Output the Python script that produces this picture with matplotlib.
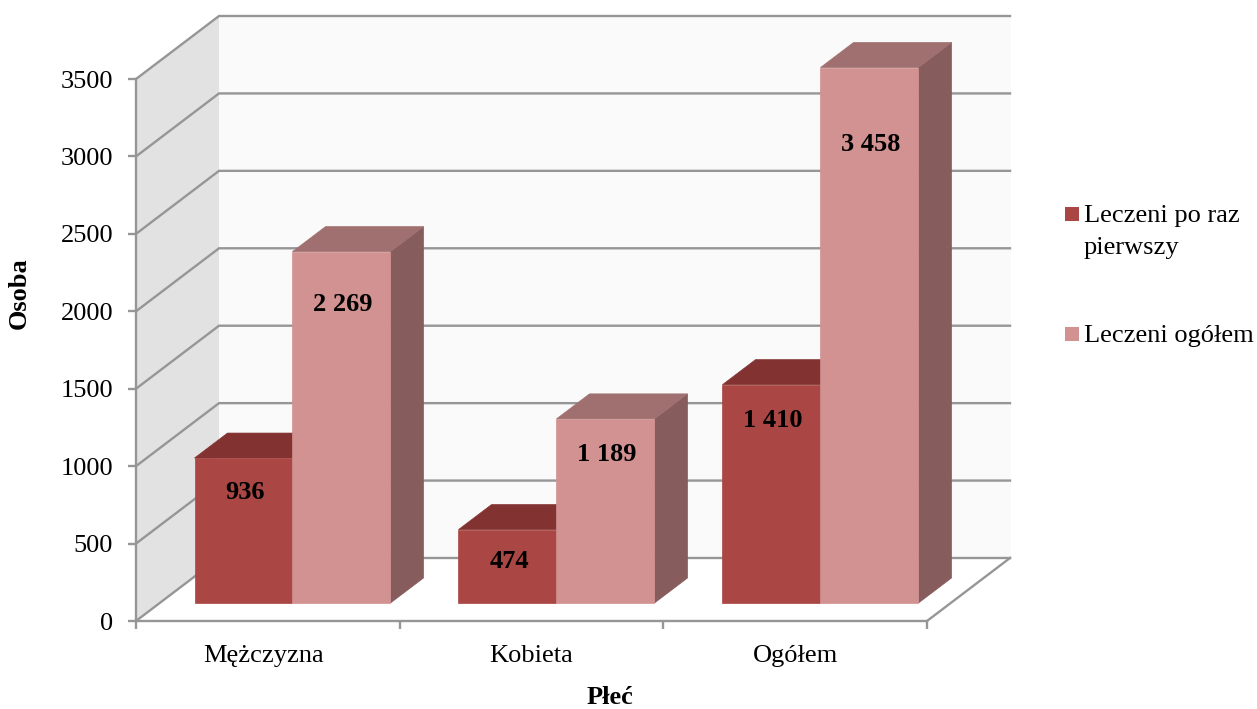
import matplotlib
matplotlib.use("Agg")
import matplotlib.pyplot as plt
from matplotlib.patches import Polygon, Rectangle

# dane
CATEGORIES = ["Mężczyzna", "Kobieta", "Ogółem"]
SERIES_NAMES = ["Leczeni po raz\npierwszy", "Leczeni ogółem"]
FIRST_TIME = [936, 474, 1410]
TOTAL = [2269, 1189, 3458]
Y_TICKS = [0, 500, 1000, 1500, 2000, 2500, 3000, 3500]

# styl
W, H = 1257, 709
AX_L, AX_R, AX_B, AX_T = 136, 927, 621, 79  # przednia plaszczyzna, px
GRID = "#969696"
LW = 1.7
WALL_SIDE = "#e2e2e2"
WALL_BACK = "#fafafa"
COL_FIRST = {"front": "#aa4643", "top": "#823331", "side": "#823331"}
COL_TOTAL = {"front": "#d19291", "top": "#a07070", "side": "#865c5c"}
FONT = "Liberation Serif"
FS = 19

plt.rcParams["font.family"] = FONT

fig = plt.figure(figsize=(W / 100, H / 100), dpi=100)
ax = fig.add_axes([AX_L / W, 1 - AX_B / H, (AX_R - AX_L) / W, (AX_B - AX_T) / H])
ax.set_xlim(0, 3)
ax.set_ylim(0, 3500)
ax.patch.set_visible(False)

# przeliczenie px -> jednostki osi
PX_X = 3 / (AX_R - AX_L)
PX_Y = 3500 / (AX_B - AX_T)
DEPTH_X = 83 * PX_X
DEPTH_Y = 63 * PX_Y


def poly(points, color, z, edge=None):
    ax.add_patch(Polygon(points, closed=True, facecolor=color, edgecolor=edge or color,
                         linewidth=0.5, clip_on=False, zorder=z))


# sciany
poly([(0, 0), (DEPTH_X, DEPTH_Y), (DEPTH_X, 3500 + DEPTH_Y), (0, 3500)], WALL_SIDE, 1)
poly([(DEPTH_X, DEPTH_Y), (3 + DEPTH_X, DEPTH_Y), (3 + DEPTH_X, 3500 + DEPTH_Y), (DEPTH_X, 3500 + DEPTH_Y)],
     WALL_BACK, 1)

for v in Y_TICKS:
    ax.plot([0, DEPTH_X, 3 + DEPTH_X], [v, v + DEPTH_Y, v + DEPTH_Y], color=GRID, lw=LW,
            clip_on=False, zorder=2, solid_joinstyle="miter")
ax.plot([3, 3 + DEPTH_X], [0, DEPTH_Y], color=GRID, lw=LW, clip_on=False, zorder=2)

# slupki
BAR_W = 98 * PX_X
BAR_START = 58.5 * PX_X
BAR_LIFT = 18 * PX_Y
BAR_DX = 33 * PX_X
BAR_DY = 25 * PX_Y
GROUP_STEP = 264 * PX_X


def bar3d(x, value, col, z):
    y0 = BAR_LIFT
    y1 = BAR_LIFT + value
    x1 = x + BAR_W
    poly([(x1, y0), (x1 + BAR_DX, y0 + BAR_DY), (x1 + BAR_DX, y1 + BAR_DY), (x1, y1)], col["side"], z)
    poly([(x, y1), (x1, y1), (x1 + BAR_DX, y1 + BAR_DY), (x + BAR_DX, y1 + BAR_DY)], col["top"], z)
    poly([(x, y0), (x1, y0), (x1, y1), (x, y1)], col["front"], z)


# odleglosc etykiety od gory slupka, px
DROP_FIRST = [34, 32, 36]
DROP_TOTAL = [53, 36, 77]

for i in range(len(CATEGORIES)):
    x = BAR_START + i * GROUP_STEP
    bar3d(x, FIRST_TIME[i], COL_FIRST, 3 + i)
    bar3d(x + BAR_W, TOTAL[i], COL_TOTAL, 3 + i + 0.5)
    for xx, val, drop in [(x, FIRST_TIME[i], DROP_FIRST[i]), (x + BAR_W, TOTAL[i], DROP_TOTAL[i])]:
        ax.text(xx + BAR_W / 2 + 1.5 * PX_X, BAR_LIFT + val - drop * PX_Y, f"{val:,}".replace(",", " "),
                ha="center", va="center", fontsize=FS, fontweight="bold", color="black", zorder=10)

# osie
for s in ["top", "right"]:
    ax.spines[s].set_visible(False)
for s in ["left", "bottom"]:
    ax.spines[s].set_color(GRID)
    ax.spines[s].set_linewidth(LW)
    ax.spines[s].set_zorder(2.5)
ax.set_yticks(Y_TICKS)
ax.set_xticks([0, 1, 2, 3])
ax.set_xticklabels([])
ax.set_xticks([0.485, 1.5, 2.5], minor=True)
ax.set_xticklabels(CATEGORIES, minor=True, fontsize=FS, color="black")
ax.tick_params(axis="x", which="major", length=6, width=LW, color=GRID)
ax.tick_params(axis="x", which="minor", length=0, pad=17.5)
ax.tick_params(axis="y", length=6, width=LW, color=GRID, labelsize=FS, pad=10.5)

fig.text(19 / W, 1 - 293 / H, "Osoba", rotation=90, ha="center", va="center",
         fontsize=FS, fontweight="bold")
fig.text(610 / W, 1 - 698 / H, "Płeć", ha="center", va="center", fontsize=FS, fontweight="bold")

# legenda
fig.patches.append(Rectangle((1065 / W, 1 - 221 / H), 14 / W, 14 / H, transform=fig.transFigure,
                             facecolor=COL_FIRST["front"], edgecolor="none"))
fig.patches.append(Rectangle((1065 / W, 1 - 341 / H), 14 / W, 14 / H, transform=fig.transFigure,
                             facecolor=COL_TOTAL["front"], edgecolor="none"))
fig.text(1084 / W, 1 - 232 / H, SERIES_NAMES[0], ha="left", va="center", fontsize=FS, linespacing=1.6)
fig.text(1084 / W, 1 - 336 / H, SERIES_NAMES[1], ha="left", va="center", fontsize=FS)

fig.savefig("out.png", dpi=100)
